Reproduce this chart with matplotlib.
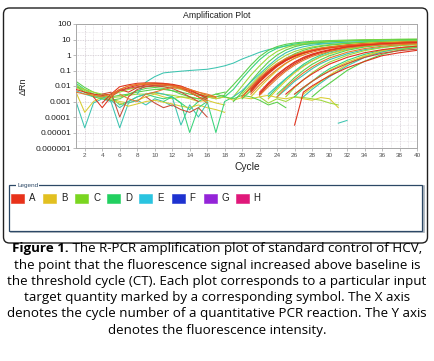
import matplotlib
matplotlib.use("Agg")
import matplotlib.pyplot as plt
from matplotlib.patches import FancyBboxPatch, Rectangle
from matplotlib.ticker import FixedLocator, NullFormatter

# ---- data ----------------------------------------------------------------
CURVE_COLORS = {
    "red": "#e0321e", "red2": "#c84a38", "orange": "#e8782a",
    "yellow": "#d8cc30", "ylgreen": "#9ed83a", "green": "#5ad04a",
    "sgreen": "#38d47a", "teal": "#3cc4b0",
}

# baseline / noisy traces: first cycle, colour, values at consecutive cycles
base_start = [1, 4, 1, 4, 3, 5, 6, 9, 1, 1, 1, 1, 1, 1, 1, 11, 16, 22, 17, 31,
              1, 1, 5, 8]
base_color = ["red", "red", "orange", "red2", "red", "red2", "orange", "red2",
              "yellow", "teal", "sgreen", "green", "ylgreen", "yellow", "teal",
              "sgreen", "yellow", "ylgreen", "green", "teal",
              "ylgreen", "green", "orange", "teal"]
base_vals = [
    [0.006, 0.004, 0.003, 0.0025, 0.003, 0.005, 0.008, 0.011, 0.013, 0.014,
     0.013, 0.011, 0.008, 0.005, 0.003, 0.002],
    [0.0008, 0.003, 0.009, 0.012, 0.015, 0.016, 0.016, 0.015, 0.012, 0.008,
     0.004, 0.002],
    [0.004, 0.003, 0.0025, 0.002, 0.003, 0.006, 0.01, 0.013, 0.015, 0.015,
     0.014, 0.012, 0.009, 0.006, 0.004, 0.0025, 0.0018],
    [0.003, 0.004, 0.0001, 0.002, 0.006, 0.009, 0.01, 0.009, 0.007, 0.004,
     0.002, 0.001],
    [0.002, 0.0004, 0.002, 0.006, 0.004, 0.008, 0.012, 0.014, 0.014, 0.013,
     0.01, 0.006, 0.003, 0.0015],
    [0.002, 0.005, 0.007, 0.009, 0.01, 0.011, 0.011, 0.01, 0.007, 0.004,
     0.002, 0.0012],
    [0.003, 0.0015, 0.001, 0.003, 0.004, 0.006, 0.008, 0.007, 0.004, 0.002,
     0.0008],
    [0.002, 0.0008, 0.0004, 0.0006, 0.0003, 0.0002, 0.0004, 0.0001],
    [0.004, 0.0002, 0.001, 0.002, 0.0015, 0.001, 0.0008, 0.0012, 0.002, 0.003,
     0.002, 0.0015, 0.002, 0.0015, 0.001, 0.0012, 0.0008, 0.0006],
    [0.001, 0.00002, 0.0008, 0.0015, 0.001, 0.00002, 0.0008, 0.0012, 0.0006,
     0.0015, 0.001, 0.0005],
    [0.015, 0.006, 0.003, 0.002, 0.002, 0.0006, 0.001, 0.002, 0.003, 0.002,
     0.0015, 0.002, 0.0008, 0.0003, 0.001, 0.002, 0.0015, 0.002],
    [0.02, 0.008, 0.004, 0.0025, 0.002, 0.0025, 0.003, 0.004, 0.005, 0.006,
     0.006, 0.005, 0.004, 0.003, 0.0025, 0.002, 0.002, 0.0025],
    [0.012, 0.005, 0.003, 0.002, 0.0018, 0.002, 0.0025, 0.003, 0.003, 0.0035,
     0.003, 0.0025, 0.002, 0.0018, 0.0015, 0.0015],
    [0.008, 0.004, 0.0025, 0.0018, 0.0012, 0.0008, 0.0005, 0.0007, 0.001,
     0.0012, 0.0009, 0.0007, 0.0005, 0.0004, 0.0006, 0.0004, 0.0003, 0.0002],
    [0.005, 0.003, 0.002, 0.002, 0.0012, 0.0004, 0.001, 0.002, 0.003, 0.004,
     0.003, 0.002, 0.00003, 0.0006, 0.0001, 0.0008],
    [0.001, 0.002, 0.0008, 0.00001, 0.0004, 0.001, 0.00001, 0.001, 0.002],
    [0.002, 0.0015, 0.002, 0.0012, 0.0018, 0.0015, 0.002, 0.0025, 0.0018,
     0.0015, 0.002, 0.0015, 0.0012, 0.0018, 0.0015, 0.0004],
    [0.002, 0.0008, 0.0015, 0.001, 0.002, 0.0018, 0.0015, 0.0012, 0.0008,
     0.0006],
    [0.003, 0.002, 0.0015, 0.0025, 0.002, 0.0012, 0.0006, 0.0009, 0.0004],
    [0.00004, 0.00006],
    [0.009, 0.006, 0.004, 0.003, 0.0025, 0.004, 0.006, 0.008, 0.009, 0.01,
     0.009, 0.008, 0.006, 0.004, 0.003, 0.0025, 0.002],
    [0.01, 0.004, 0.002, 0.0015, 0.0012, 0.0015, 0.003, 0.005, 0.007, 0.008,
     0.007, 0.005, 0.003, 0.002, 0.0015, 0.002, 0.003, 0.004],
    [0.002, 0.006, 0.01, 0.012, 0.013, 0.013, 0.012, 0.01, 0.008, 0.006,
     0.004, 0.003, 0.002],
    # early teal trace that sits near 0.1 before it amplifies
    [0.003, 0.018, 0.04, 0.07, 0.08, 0.09, 0.1, 0.11, 0.12, 0.15, 0.2, 0.3,
     0.55, 0.9, 1.5, 2.2, 3.0, 3.7, 4.3, 4.8, 5.2, 5.6, 5.9, 6.2, 6.5, 6.7,
     6.9, 7.1, 7.2, 7.4, 7.5, 7.6, 7.7],
]

# amplification curves: values line up with the END of amp_cycles
amp_cycles = [17, 18, 19, 20, 21, 22, 23, 24, 25, 26, 27, 28, 29, 30,
              32, 34, 36, 38, 40]
amp_color = ["green", "sgreen", "ylgreen", "green", "teal",
             "yellow", "ylgreen", "green", "yellow",
             "sgreen", "teal", "yellow", "orange", "green", "teal",
             "ylgreen", "sgreen", "yellow", "teal", "green", "yellow",
             "red2", "red", "red2", "red",
             "red", "red", "orange", "red2", "red", "orange", "red",
             "orange", "red"]
amp_vals = [
    [0.003, 0.012, 0.05, 0.22, 0.8, 2.0, 3.5, 4.9, 6.0, 6.9, 7.6, 8.1, 8.5,
     9.1, 9.6, 10.0, 10.3, 10.5],
    [0.002, 0.006, 0.03, 0.13, 0.5, 1.4, 2.7, 4.0, 5.1, 6.0, 6.7, 7.3, 7.7,
     8.4, 8.9, 9.3, 9.6, 9.8],
    [0.002, 0.01, 0.05, 0.2, 0.7, 1.7, 3.0, 4.3, 5.4, 6.3, 7.0, 7.6,
     8.5, 9.2, 9.7, 10.1, 10.4],
    [0.001, 0.004, 0.02, 0.09, 0.35, 1.0, 2.1, 3.4, 4.6, 5.6, 6.4, 7.0,
     8.0, 8.7, 9.2, 9.6, 9.9],
    [0.002, 0.005, 0.018, 0.06, 0.2, 0.6, 1.4, 2.4, 3.4, 4.3, 5.0, 5.6,
     6.6, 7.3, 7.8, 8.2, 8.5],
    [0.002, 0.007, 0.025, 0.08, 0.22, 0.5, 0.95, 1.5, 2.1, 2.8, 3.4,
     4.5, 5.4, 6.1, 6.7, 7.1],
    [0.003, 0.012, 0.045, 0.15, 0.42, 0.95, 1.7, 2.5, 3.3, 4.0, 4.7,
     5.8, 6.7, 7.4, 8.0, 8.4],
    [0.0015, 0.005, 0.02, 0.07, 0.22, 0.6, 1.2, 2.0, 2.8, 3.6, 4.3,
     5.5, 6.5, 7.3, 7.9, 8.4],
    [0.002, 0.008, 0.03, 0.1, 0.28, 0.65, 1.2, 1.9, 2.6, 3.3,
     4.6, 5.7, 6.6, 7.3, 7.8],
    [0.002, 0.008, 0.03, 0.09, 0.25, 0.55, 1.0, 1.6, 2.9, 4.2, 5.4, 6.3, 7.0],
    [0.003, 0.01, 0.03, 0.08, 0.2, 0.42, 0.8, 1.3, 2.5, 3.7, 4.7, 5.5, 6.1],
    [0.0015, 0.006, 0.022, 0.07, 0.18, 0.4, 0.75, 1.2, 2.3, 3.5, 4.6, 5.5,
     6.2],
    [0.002, 0.008, 0.025, 0.07, 0.17, 0.35, 0.65, 1.5, 2.6, 3.7, 4.6, 5.3],
    [0.003, 0.01, 0.035, 0.1, 0.25, 0.5, 0.9, 2.0, 3.3, 4.5, 5.5, 6.3],
    [0.002, 0.006, 0.02, 0.05, 0.13, 0.28, 0.5, 1.2, 2.2, 3.2, 4.1, 4.8],
    [0.002, 0.008, 0.025, 0.07, 0.17, 0.35, 0.95, 1.9, 3.0, 4.0, 4.8],
    [0.002, 0.007, 0.02, 0.055, 0.13, 0.45, 1.1, 2.0, 2.9, 3.7],
    [0.003, 0.008, 0.02, 0.045, 0.1, 0.35, 0.85, 1.6, 2.4, 3.1],
    [0.002, 0.006, 0.016, 0.04, 0.2, 0.7, 1.6, 2.7, 3.7],
    [0.002, 0.006, 0.015, 0.1, 0.4, 1.1, 2.1, 3.2],
    [0.003, 0.008, 0.02, 0.05, 0.25, 0.85, 1.9, 3.0, 4.0],
    [0.003, 0.008, 0.02, 0.045, 0.09, 0.28, 0.7, 1.3, 1.9, 2.4],
    [0.00003, 0.004, 0.01, 0.022, 0.045, 0.15, 0.38, 0.9, 1.4, 2.0],
    [0.002, 0.008, 0.03, 0.09, 0.24, 0.5, 0.9, 1.4, 2.0, 2.6, 3.1,
     4.3, 5.2, 5.9, 6.5, 6.9],
    [0.003, 0.009, 0.025, 0.06, 0.13, 0.26, 0.7, 1.4, 2.2, 3.0, 3.7],
    [0.006, 0.025, 0.08, 0.22, 0.5, 0.9, 1.4, 2.0, 2.6, 3.1,
     4.2, 5.1, 5.8, 6.4, 6.9],
    [0.004, 0.018, 0.06, 0.18, 0.42, 0.8, 1.3, 1.85, 2.4, 3.0,
     4.1, 5.0, 5.7, 6.3, 6.8],
    [0.003, 0.012, 0.04, 0.12, 0.3, 0.6, 1.0, 1.5, 2.1, 2.7,
     3.8, 4.8, 5.5, 6.1, 6.6],
    [0.003, 0.014, 0.05, 0.14, 0.33, 0.65, 1.05, 1.5, 2.0,
     3.2, 4.3, 5.1, 5.8, 6.3],
    [0.003, 0.012, 0.04, 0.11, 0.27, 0.55, 0.95, 1.45, 2.0,
     3.2, 4.2, 5.1, 5.7, 6.2],
    [0.0025, 0.009, 0.03, 0.09, 0.22, 0.45, 0.8, 1.2, 1.7,
     2.9, 3.9, 4.8, 5.4, 5.9],
    [0.005, 0.02, 0.07, 0.2, 0.45, 0.85, 1.35, 1.9, 2.5, 3.0,
     4.1, 5.0, 5.7, 6.2, 6.7],
    [0.002, 0.009, 0.035, 0.11, 0.28, 0.6, 1.05, 1.6, 2.2, 2.8, 3.3,
     4.4, 5.3, 6.0, 6.6, 7.0],
    [0.004, 0.016, 0.055, 0.15, 0.36, 0.7, 1.15, 1.65, 2.2,
     3.4, 4.4, 5.3, 5.9, 6.4],
]

y_ticks = [1e-6, 1e-5, 1e-4, 1e-3, 1e-2, 1e-1, 1, 10, 100]
y_ticklabels = ["0.000001", "0.00001", "0.0001", "0.001", "0.01", "0.1",
                "1", "10", "100"]
x_ticks = list(range(2, 41, 2))

legend_labels = ["A", "B", "C", "D", "E", "F", "G", "H"]
legend_colors = ["#e8321a", "#e2c020", "#7ad620", "#22d060", "#2ac4e0",
                 "#1e32d0", "#9424d8", "#e0187a"]

caption_lines = [
    "the point that the fluorescence signal increased above baseline is",
    "the threshold cycle (CT). Each plot corresponds to a particular input",
    "target quantity marked by a corresponding symbol. The X axis",
    "denotes the cycle number of a quantitative PCR reaction. The Y axis",
    "denotes the fluorescence intensity.",
]

# ---- figure ------------------------------------------------------------------
W, H = 434, 361
fig = plt.figure(figsize=(W / 100, H / 100), dpi=100)
CH = "Liberation Sans"


def fx(px):
    return px / W


def fy(py):
    return 1 - py / H


# outer rounded frame (behind the axes)
fig.patches.append(FancyBboxPatch(
    (0.035, (H - 243) / 100), 4.24, (243 - 8) / 100,
    boxstyle="round,pad=0,rounding_size=0.06", transform=fig.dpi_scale_trans,
    fc="white", ec="#202020", lw=1.0, zorder=-5))

ax = fig.add_axes([fx(76), fy(148), fx(417 - 76), (148 - 24) / H])
ax.set_yscale("log")
ax.set_xlim(1, 40)
ax.set_ylim(1e-6, 100)

for s, c, v in zip(base_start, base_color, base_vals):
    xs = list(range(s, s + len(v)))
    z = 3 if c in ("red", "red2", "orange") else 2
    ax.plot(xs, v, color=CURVE_COLORS[c], lw=0.75, zorder=z)

for c, v in zip(amp_color, amp_vals):
    xs = amp_cycles[-len(v):]
    z = 3 if c in ("red", "red2", "orange") else 2
    ax.plot(xs, v, color=CURVE_COLORS[c], lw=0.8, zorder=z)

ax.yaxis.set_major_locator(FixedLocator(y_ticks))
ax.set_yticklabels(y_ticklabels, fontsize=6, family=CH, color="#202020")
ax.yaxis.set_minor_locator(FixedLocator(
    [m * d for d in y_ticks[:-1] for m in (3,)]))
ax.yaxis.set_minor_formatter(NullFormatter())
ax.set_xticks(x_ticks)
ax.set_xticklabels([str(t) for t in x_ticks], fontsize=4.6, family=CH,
                   color="#505050")
ax.set_xticks(range(1, 41), minor=True)
ax.tick_params(axis="both", which="major", length=2, width=0.5,
               color="#a0a0a0", pad=1.5)
ax.tick_params(axis="y", which="minor", length=0)
ax.tick_params(axis="x", which="minor", length=0)
ax.grid(which="major", color="#cec6ce", ls=(0, (1, 1)), lw=0.6, zorder=0)
ax.grid(which="minor", color="#e0dae0", ls=(0, (1, 1)), lw=0.5, zorder=0)
for sp in ax.spines.values():
    sp.set_color("#a8a8a8")
    sp.set_linewidth(0.7)

fig.text(0.5, fy(15), "Amplification Plot", ha="center", va="center",
         fontsize=6.3, family=CH, color="#202020")
fig.text(fx(247), fy(167), "Cycle", ha="center", va="center",
         fontsize=7.4, family=CH, color="#202020")
fig.text(fx(23), fy(86), "\u0394Rn", ha="center", va="center", rotation=90,
         fontsize=6.5, family=CH, color="#202020")

# legend panel
fig.patches.append(Rectangle((0.105, (H - 232) / 100), 4.13, 0.46,
                             transform=fig.dpi_scale_trans, fc="none",
                             ec="#a8b0b8", lw=1.2))
fig.patches.append(Rectangle((0.09, (H - 231) / 100), 4.13, 0.46,
                             transform=fig.dpi_scale_trans, fc="white",
                             ec="#2c4866", lw=0.9))
fig.text(fx(17), fy(185), "Legend", ha="left", va="center", fontsize=4.6,
         family=CH, color="#2c4866",
         bbox=dict(fc="white", ec="none", pad=0.6))
for i, (lab, col) in enumerate(zip(legend_labels, legend_colors)):
    x0 = 11 + 32.1 * i
    fig.patches.append(Rectangle((x0 / 100, (H - 202.5) / 100), 0.13, 0.085,
                                 transform=fig.dpi_scale_trans, fc=col,
                                 ec=col, lw=0.4))
    fig.text(fx(x0 + 18), fy(198), lab, ha="left", va="center", fontsize=7,
             family=CH, color="#202020")

# caption
CAP = "Open Sans"
CAP_SIZE = 9.65
line_y = [248.5, 265, 281.5, 298, 314, 330.5, 347]
fig.canvas.draw()
r = fig.canvas.get_renderer()
t1 = fig.text(0, fy(line_y[0]), "Figure 1.", ha="left", va="center",
              fontsize=CAP_SIZE, family=CAP, weight="bold", color="black")
t2 = fig.text(0, fy(line_y[0]),
              " The R-PCR amplification plot of standard control of HCV,",
              ha="left", va="center", fontsize=CAP_SIZE, family=CAP,
              color="black")
w1 = t1.get_window_extent(r).width
w2 = t2.get_window_extent(r).width
start = (W - (w1 + w2)) / 2
t1.set_x(start / W)
t2.set_x((start + w1) / W)
for yy, line in zip(line_y[1:], caption_lines):
    fig.text(0.5, fy(yy), line, ha="center", va="center", fontsize=CAP_SIZE,
             family=CAP, color="black")

fig.savefig("out.png", dpi=100)
